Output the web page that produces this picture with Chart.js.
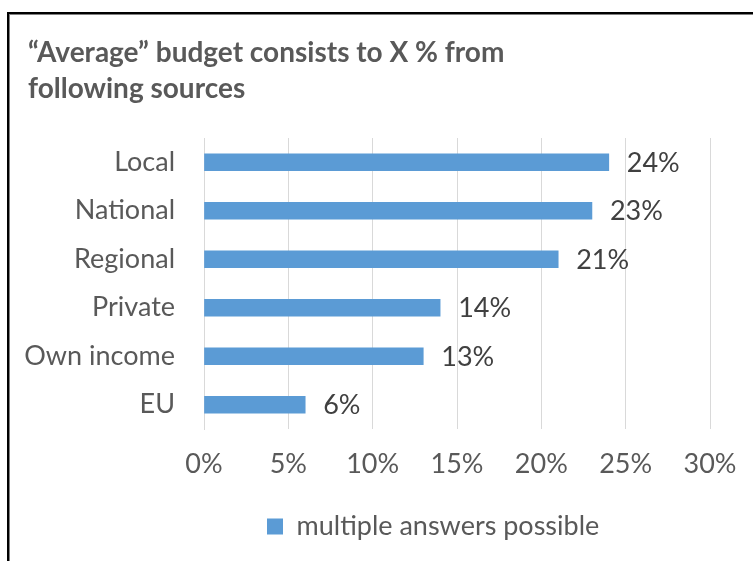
<!DOCTYPE html>
<html>
<head>
<meta charset="utf-8">
<script src="https://cdn.jsdelivr.net/npm/chart.js@4"></script>
<style>
  html, body { margin: 0; padding: 0; background: #ffffff; }
  #wrap { width: 753px; height: 561px; position: relative; }
</style>
</head>
<body>
<div id="wrap"><canvas id="c" width="753" height="561"></canvas></div>
<script>
const categories = ["Local", "National", "Regional", "Private", "Own income", "EU"];
const values = [24, 23, 21, 14, 13, 6];
const xTicks = [0, 5, 10, 15, 20, 25, 30];
const seriesName = "multiple answers possible";
const titleLines = ["\u201CAverage\u201D budget consists to X % from", "following sources"];

const FONT = "Lato, 'Open Sans', sans-serif";
const FS = 27;

const dataLabels = {
  id: 'dataLabels',
  afterDatasetsDraw(chart) {
    const ctx = chart.ctx;
    const meta = chart.getDatasetMeta(0);
    ctx.save();
    ctx.font = FS + "px " + FONT;
    ctx.fillStyle = "#404040";
    ctx.textAlign = "left";
    ctx.textBaseline = "middle";
    meta.data.forEach((bar, i) => {
      ctx.fillText(values[i] + "%", bar.x + 18, bar.y + 1);
    });
    ctx.restore();
  }
};

const shiftBoxes = {
  id: 'shiftBoxes',
  beforeDraw(chart) {
    const lg = chart.legend;
    if (lg && lg.lineWidths) {
      const pad = lg.options.labels.padding;
      const cur = (lg.left + pad + lg.right - lg.lineWidths[0]) / 2;
      const delta = 267 - cur;
      lg.left += delta;
      lg.right += delta;
    }
    const tb = chart.titleBlock;
    if (tb) {
      const d = 28 - tb.left;
      tb.left += d;
      tb.right += d;
    }
  }
};

const frame = {
  id: 'frame',
  afterDraw(chart) {
    const ctx = chart.ctx;
    ctx.save();
    ctx.fillStyle = "#000000";
    ctx.fillRect(7, 12, 746, 2);
    ctx.fillRect(7, 12, 2, 549);
    ctx.fillStyle = "#808080";
    ctx.fillRect(9, 14, 744, 1);
    ctx.fillRect(9, 14, 1, 547);
    ctx.restore();
  }
};

new Chart(document.getElementById("c"), {
  type: "bar",
  data: {
    labels: categories,
    datasets: [{
      label: seriesName,
      data: values,
      backgroundColor: "#5b9bd5",
      borderWidth: 0,
      barThickness: 17
    }]
  },
  plugins: [dataLabels, shiftBoxes, frame],
  options: {
    indexAxis: "y",
    responsive: false,
    animation: false,
    devicePixelRatio: 1,
    layout: { padding: { left: 16, right: 43, top: 20, bottom: 11 } },
    plugins: {
      title: {
        display: true,
        text: titleLines,
        align: "start",
        color: "#595959",
        font: { family: FONT, size: 28, weight: "bold", lineHeight: 1.286 },
        padding: { top: 15, bottom: 31 }
      },
      legend: {
        display: true,
        position: "bottom",
        labels: {
          color: "#595959",
          font: { family: FONT, size: FS },
          boxWidth: 16,
          boxHeight: 16,
          padding: 10
        }
      },
      tooltip: { enabled: false }
    },
    scales: {
      x: {
        min: 0,
        max: 30,
        afterBuildTicks(scale) {
          scale.ticks = xTicks.map(v => ({ value: v }));
        },
        ticks: {
          color: "#595959",
          font: { family: FONT, size: FS },
          padding: 19,
          maxRotation: 0,
          callback: (v) => v + "%"
        },
        grid: { color: "#d9d9d9", drawTicks: false, lineWidth: 1 },
        border: { display: false },
        afterFit(scale) {
          scale.height = 74;
          scale.paddingRight = 20;
          scale.paddingLeft = 0;
        }
      },
      y: {
        ticks: {
          color: "#595959",
          font: { family: FONT, size: FS },
          padding: 29
        },
        grid: { display: false, drawTicks: false },
        border: { display: true, color: "#d9d9d9", width: 1 },
        afterFit(scale) { scale.width = 188; }
      }
    }
  }
});
</script>
</body>
</html>
